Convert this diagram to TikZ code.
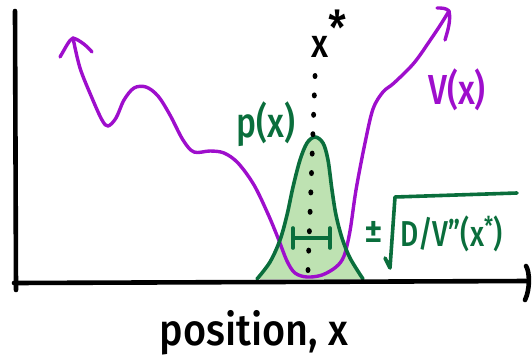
\documentclass[tikz,border=0pt]{standalone}
\usepackage{fontspec}
\setmainfont{Fira Sans}[BoldFont={Fira Sans Medium}]
\definecolor{vpurple}{RGB}{158,14,204}
\definecolor{pgreen}{RGB}{10,110,60}
\definecolor{pfill}{RGB}{190,226,178}
\tikzset{
  axisline/.style={line width=4.6pt, line cap=round, line join=round, black},
  vline/.style={line width=3.4pt, line cap=round, line join=round, vpurple},
  gline/.style={line width=3.6pt, line cap=round, line join=round, pgreen},
  lbl/.style={inner sep=0pt, outer sep=0pt, font=\fontsize{#1}{#1}\selectfont\bfseries},
}
\begin{document}
\begin{tikzpicture}[x=1pt,y=-1pt]
\useasboundingbox (0,0) rectangle (532,362);
% axes
\coordinate (ytop) at (15,11);
\coordinate (ybot) at (16,290);
\coordinate (xleft) at (14,283);
\coordinate (xright) at (528,281);
% gaussian fill
\fill[pfill] plot[smooth, tension=0.55] coordinates {(257,279) (270,262) (280,240) (287,215) (293,187) (300,160) (307,143) (315,137) (323,143) (328,160) (332,190) (336,215) (342,238) (350,258) (363,279)} -- cycle;
% purple potential
\draw[vline] plot[smooth, tension=0.55] coordinates {(73,38) (80,68) (92,98) (102,120) (108,126) (116,118) (124,100) (134,88) (146,87) (158,96) (170,115) (183,140) (194,152) (210,151) (224,153) (238,163) (254,185) (268,214) (278,238) (287,261) (295,273) (307,277) (322,275) (336,267) (344,256) (350,231) (356,190) (365,143) (373,109) (383,92) (394,83) (414,63) (431,39) (441,24) (449,11)};
\draw[vline] (60,57) .. controls (66,47) and (69,40) .. (73,38) .. controls (80,40) and (88,47) .. (92,52);
\draw[vline] (437,8) .. controls (442,8) and (446,8) .. (449,11) .. controls (451,20) and (448,30) .. (445,40);
% gaussian outline
\draw[gline] plot[smooth, tension=0.55] coordinates {(257,279) (270,262) (280,240) (287,215) (293,187) (300,160) (307,143) (315,137) (323,143) (328,160) (332,190) (336,215) (342,238) (350,258) (363,279)};
% error bar
\draw[gline] (293,238) -- (330,238);
\draw[gline] (293,228) -- (293,248);
\draw[gline] (330,228) -- (330,248);
% axes on top
\draw[axisline] (ytop) -- (ybot);
\draw[axisline] (xleft) -- (xright);
\draw[axisline] (526,266) .. controls (530,272) and (530,290) .. (525,300);
% dotted line
\foreach \i in {0,...,10} {
  \fill ({315-0.7*\i},{76+19.4*\i}) ellipse (2.5pt and 3pt);
}
% labels
\node[lbl=40, xscale=0.85] (xstar) at (329,34) {x\raisebox{0.3em}{\fontsize{48}{48}\selectfont *}};
\node[lbl=42, xscale=0.8, text=pgreen] (px) at (266,124) {p(x)};
\node[lbl=42, xscale=0.8, text=vpurple] (vx) at (457,90) {V(x)};
\node[lbl=44, xscale=0.9] (pos) at (254,333) {position, x};
\node[lbl=36, text=pgreen] (pm) at (374,232) {±};
\node[lbl=36, xscale=0.78, text=pgreen, anchor=west] (dv) at (400,234) {D/V''(x\raisebox{0.3em}{\fontsize{26}{26}\selectfont *})};
\draw[gline] (385,258) -- (390,268) -- (395,197) -- (517,193);
\end{tikzpicture}
\end{document}
